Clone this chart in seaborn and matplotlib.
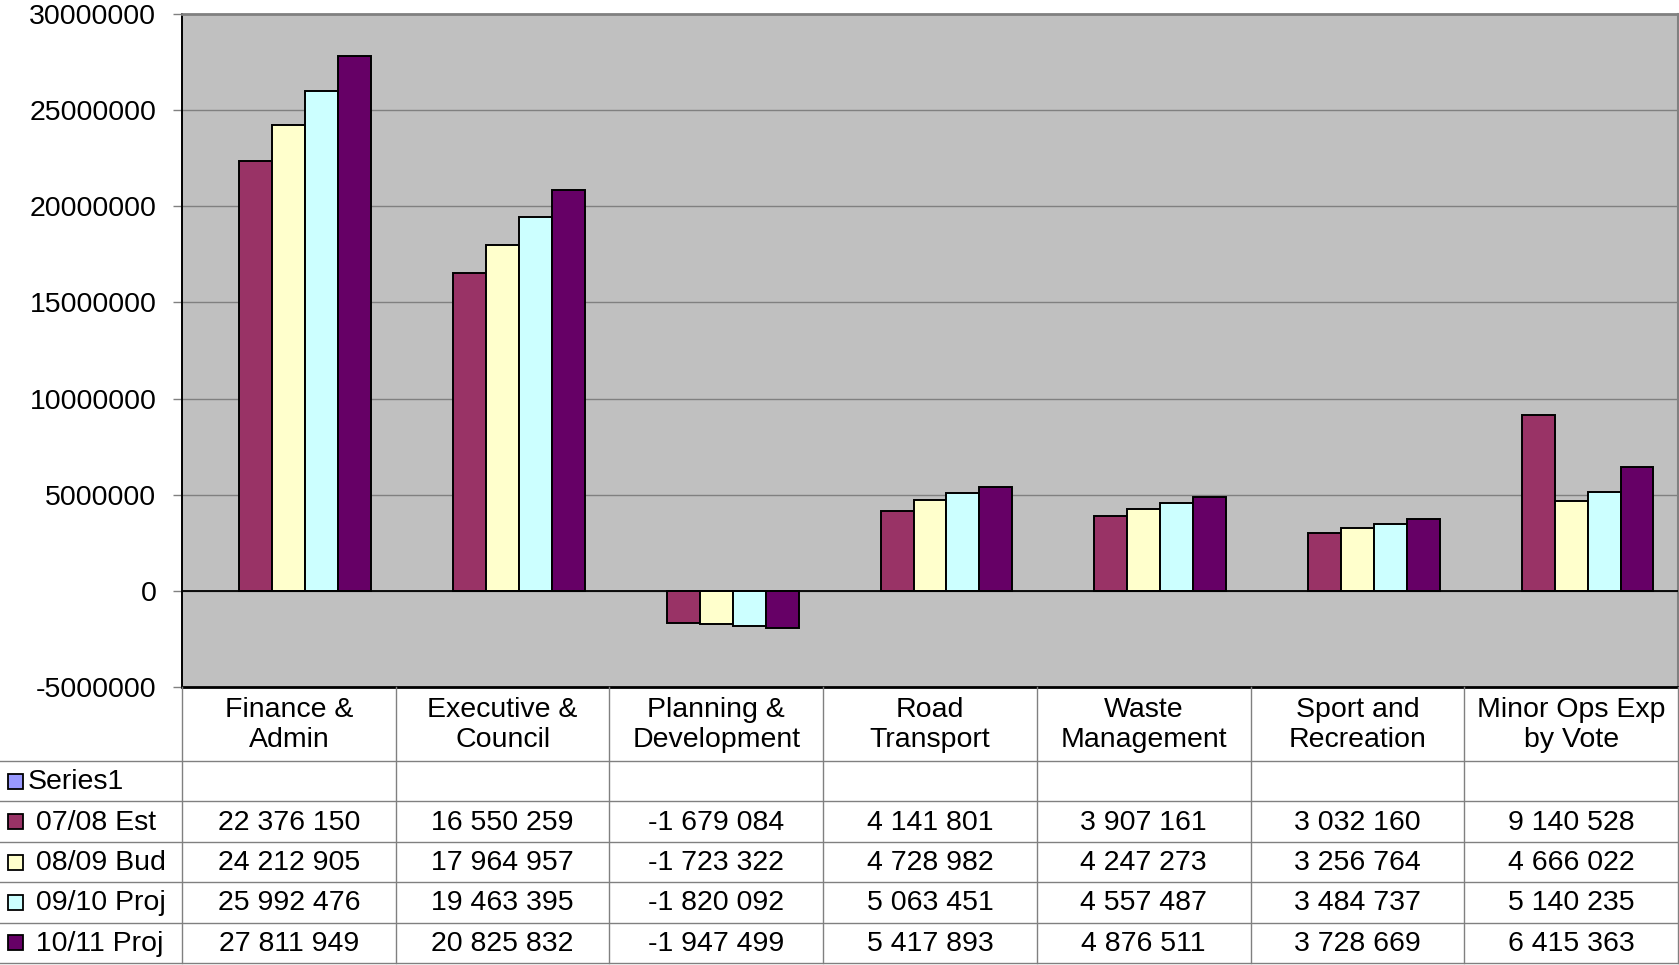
import numpy as np
import pandas as pd
import matplotlib
matplotlib.use("Agg")
import matplotlib.pyplot as plt
from matplotlib.patches import Rectangle
from matplotlib.transforms import blended_transform_factory
import seaborn as sns

# ---- data -------------------------------------------------------------
categories = [
    "Finance &\nAdmin",
    "Executive &\nCouncil",
    "Planning &\nDevelopment",
    "Road\nTransport",
    "Waste\nManagement",
    "Sport and\nRecreation",
    "Minor Ops Exp\nby Vote",
]
series_names = ["Series1", " 07/08 Est", " 08/09 Bud", " 09/10 Proj", " 10/11 Proj"]

series1 = [np.nan] * 7
est_0708 = [22376150, 16550259, -1679084, 4141801, 3907161, 3032160, 9140528]
bud_0809 = [24212905, 17964957, -1723322, 4728982, 4247273, 3256764, 4666022]
proj_0910 = [25992476, 19463395, -1820092, 5063451, 4557487, 3484737, 5140235]
proj_1011 = [27811949, 20825832, -1947499, 5417893, 4876511, 3728669, 6415363]

series_colors = ["#9999FF", "#993366", "#FFFFCC", "#CCFFFF", "#660066"]
y_ticks = [-5000000, 0, 5000000, 10000000, 15000000, 20000000, 25000000, 30000000]

all_values = [series1, est_0708, bud_0809, proj_0910, proj_1011]
df = pd.DataFrame(
    [
        {"category": c, "series": s, "value": v}
        for s, vals in zip(series_names, all_values)
        for c, v in zip(categories, vals)
    ]
)

# ---- figure -----------------------------------------------------------
W, H = 1679, 965
plt.rcParams["font.family"] = ["Liberation Sans", "DejaVu Sans"]
plt.rcParams["axes.unicode_minus"] = False
FS = 20.5

fig = plt.figure(figsize=(W / 100, H / 100), dpi=100)
fig.patch.set_facecolor("white")

plot_left, plot_right, plot_top, plot_bottom = 182, 1678, 14, 687
ax = fig.add_axes([
    plot_left / W,
    1 - plot_bottom / H,
    (plot_right - plot_left) / W,
    (plot_bottom - plot_top) / H,
])
ax.set_facecolor("#C0C0C0")

sns.barplot(
    data=df, x="category", y="value", hue="series",
    order=categories, hue_order=series_names,
    palette=dict(zip(series_names, series_colors)), saturation=1,
    width=0.77, edgecolor="black", linewidth=1.4,
    errorbar=None, legend=False, ax=ax, zorder=3,
)

ax.set_xlim(-0.5, len(categories) - 0.5)
ax.set_ylim(min(y_ticks), max(y_ticks))
ax.set_yticks(y_ticks)
ax.set_yticklabels([str(t) for t in y_ticks], fontsize=FS)
ax.set_xticks([])
ax.set_xlabel("")
ax.set_ylabel("")
ax.tick_params(axis="y", length=6.5, width=1, color="#808080", pad=12)
for t in y_ticks[1:-1]:
    ax.axhline(t, color="#808080", lw=1, zorder=1)
ax.axhline(0, color="black", lw=1.3, zorder=4)
ax.spines["left"].set_color("black")
ax.spines["left"].set_linewidth(1.4)
ax.spines["bottom"].set_color("black")
ax.spines["bottom"].set_linewidth(2)
ax.spines["top"].set_color("#808080")
ax.spines["top"].set_linewidth(2)
ax.spines["right"].set_color("#808080")
ax.spines["right"].set_linewidth(1.5)

# ---- data table beneath the plot ---------------------------------------
tab_h = H - plot_bottom
tab = fig.add_axes([0, 0, 1, tab_h / H])
tab.set_xlim(0, W)
tab.set_ylim(tab_h, 0)
tab.axis("off")

header_h = 74
row_h = 40.4
row_edges = [header_h + k * row_h for k in range(len(series_names) + 1)]
grid_kw = dict(color="#808080", lw=1)

for y in row_edges:
    tab.plot([0, W], [y, y], **grid_kw, clip_on=False)

col_tr = blended_transform_factory(ax.transData, tab.transData)
for k in range(len(categories) + 1):
    tab.plot([k - 0.5, k - 0.5], [0, row_edges[-1]], transform=col_tr,
             **grid_kw, clip_on=False)

for i, cat in enumerate(categories):
    tab.text(i, header_h / 2 + 1, cat, transform=col_tr, ha="center",
             va="center", fontsize=FS, linespacing=1.22)

for r, (name, color, vals) in enumerate(zip(series_names, series_colors, all_values)):
    yc = (row_edges[r] + row_edges[r + 1]) / 2
    ty = yc - 2
    tab.add_patch(Rectangle((8, yc - 7.5), 15, 15, facecolor=color,
                            edgecolor="black", lw=1.3))
    tab.text(28, ty, name, ha="left", va="center_baseline", fontsize=FS)
    for i, v in enumerate(vals):
        if np.isnan(v):
            continue
        label = f"{int(v):,}".replace(",", " ")
        tab.text(i, ty, label, transform=col_tr, ha="center",
                 va="center_baseline", fontsize=FS)

fig.savefig("out.png", dpi=100, facecolor="white")
